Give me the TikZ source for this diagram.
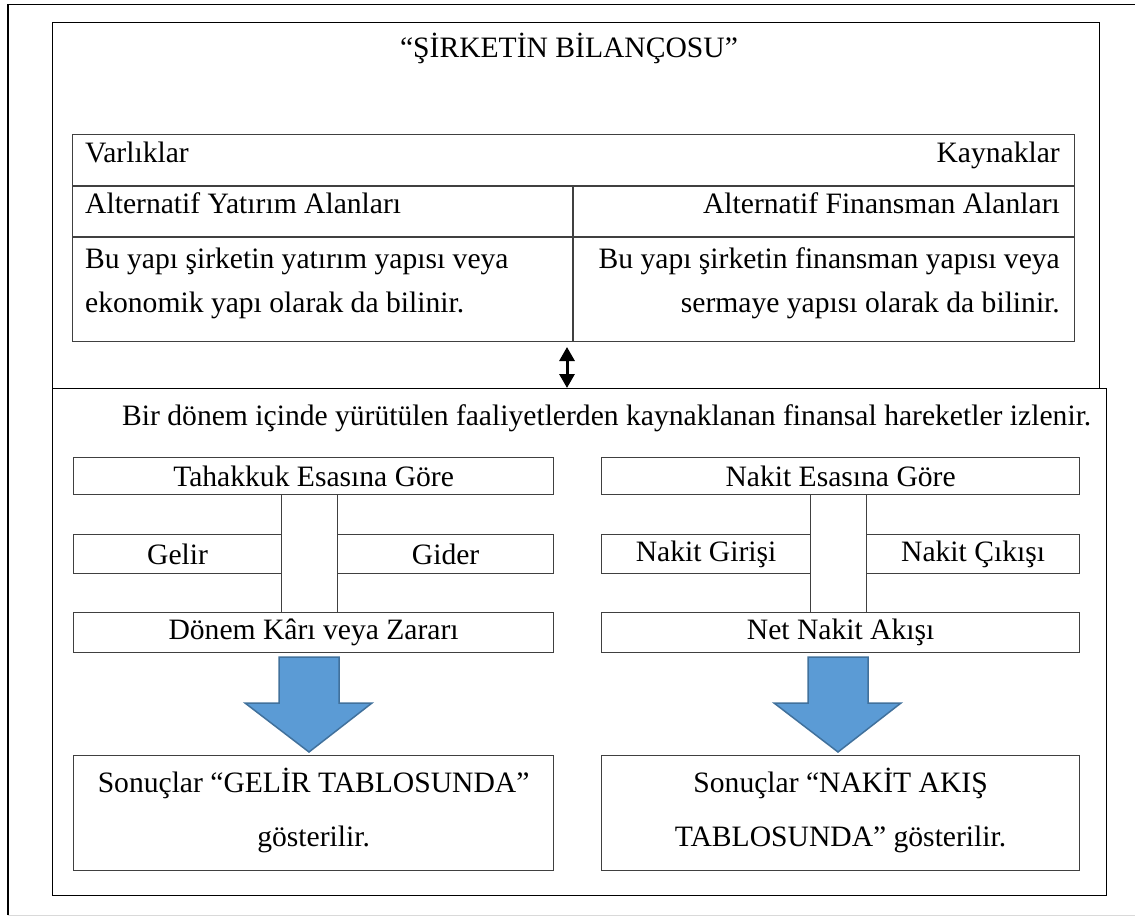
\documentclass[tikz,border=0pt]{standalone}
\usepackage{fontspec}
\setmainfont{Liberation Serif}
\usetikzlibrary{arrows.meta}
\definecolor{arrowfill}{RGB}{91,155,213}
\definecolor{arrowedge}{RGB}{65,113,156}
\begin{document}
\begin{tikzpicture}[x=1pt,y=-1pt,
  frame/.style={draw=black, line width=1.3pt},
  box/.style={draw=black!75, line width=1.2pt, inner sep=0pt, anchor=north west,
    font=\fontsize{29.6}{34}\selectfont},
  txt/.style={inner sep=0pt, font=\fontsize{29.6}{34}\selectfont},
  bigarrow/.style={fill=arrowfill, draw=arrowedge, line width=1.5pt, line join=miter},
  dblarrow/.style={line width=3pt, {Triangle[length=14pt,width=15pt]}-{Triangle[length=14pt,width=15pt]}}
]
\useasboundingbox (0,0) rectangle (1135,916);

% page frame
\draw[frame] (8,915) -- (8,4.5) -- (1135,4.5);
\draw[draw=black!15, line width=1pt] (8,915.5) -- (1135,915.5);

% balance sheet block
\node[frame, inner sep=0pt, anchor=north west, minimum width=1047pt, minimum height=366pt] (upper) at (52,22) {};
\node[txt, anchor=base] (title) at (569,57) {“ŞİRKETİN BİLANÇOSU”};

% balance sheet table
\node[box, minimum width=1002pt, minimum height=207pt] (tbl) at (72,134) {};
\draw[draw=black!75, line width=1.2pt] (72,186) -- (1074,186);
\draw[draw=black!75, line width=1.2pt] (72,237) -- (1074,237);
\draw[draw=black!75, line width=1.2pt] (573,186) -- (573,341);
\node[txt, anchor=base west] (varl) at (85,162) {Varlıklar};
\node[txt, anchor=base east] (kayn) at (1060,162) {Kaynaklar};
\node[txt, anchor=base west] (yat) at (85,213) {Alternatif Yatırım Alanları};
\node[txt, anchor=base east] (fin) at (1060,213) {Alternatif Finansman Alanları};
\node[txt, anchor=base west] (yat1) at (85,268) {Bu yapı şirketin yatırım yapısı veya};
\node[txt, anchor=base west] (yat2) at (85,312) {ekonomik yapı olarak da bilinir.};
\node[txt, anchor=base east] (fin1) at (1060,268) {Bu yapı şirketin finansman yapısı veya};
\node[txt, anchor=base east] (fin2) at (1060,312) {sermaye yapısı olarak da bilinir.};

% activities block
\node[frame, inner sep=0pt, anchor=north west, minimum width=1054pt, minimum height=507pt] (lower) at (52,388) {};
\node[txt, anchor=base west] (izle) at (122,425) {Bir dönem içinde yürütülen faaliyetlerden kaynaklanan finansal hareketler izlenir.};

\coordinate (dtop) at (567,347);
\coordinate (dbot) at (567,388);
\draw[dblarrow] (dtop) -- (dbot);

% accrual basis
\node[box, minimum width=480pt, minimum height=37pt] (tah) at (73,457) {Tahakkuk Esasına Göre};
\node[box, minimum width=208pt, minimum height=39pt] (gelir) at (73,534) {Gelir};
\node[box, minimum width=216pt, minimum height=39pt] (gider) at (337,534) {Gider};
\node[box, minimum width=56pt, minimum height=118pt] (tcol) at (281,494) {};
\node[box, minimum width=480pt, minimum height=40pt] (donem) at (73,612) {Dönem Kârı veya Zararı};

% cash basis
\node[box, minimum width=478pt, minimum height=37pt] (nakes) at (601,457) {Nakit Esasına Göre};
\node[box, minimum width=209pt, minimum height=39pt] (giris) at (601,534) {Nakit Girişi};
\node[box, minimum width=213pt, minimum height=39pt] (cikis) at (866,534) {Nakit Çıkışı};
\node[box, minimum width=56pt, minimum height=118pt] (ncol) at (810,494) {};
\node[box, minimum width=478pt, minimum height=40pt] (net) at (601,612) {Net Nakit Akışı};

% block arrows
\begin{scope}[shift={(309,0)}]
\draw[bigarrow] (-30,657) -- (30,657) -- (30,703) -- (63,703) -- (0,752) -- (-64,703) -- (-30,703) -- cycle;
\end{scope}
\begin{scope}[shift={(838,0)}]
\draw[bigarrow] (-30,657) -- (30,657) -- (30,703) -- (63,703) -- (0,752) -- (-64,703) -- (-30,703) -- cycle;
\end{scope}

% result statements
\node[box, minimum width=480pt, minimum height=115pt] (sonL) at (73,755) {};
\node[txt, anchor=base] (sonL1) at (sonL.center |- 0,792) {Sonuçlar “GELİR TABLOSUNDA”};
\node[txt, anchor=base] (sonL2) at (sonL.center |- 0,846) {gösterilir.};
\node[box, minimum width=478pt, minimum height=115pt] (sonR) at (601,755) {};
\node[txt, anchor=base] (sonR1) at (sonR.center |- 0,792) {Sonuçlar “NAKİT AKIŞ};
\node[txt, anchor=base] (sonR2) at (sonR.center |- 0,846) {TABLOSUNDA” gösterilir.};
\end{tikzpicture}
\end{document}
